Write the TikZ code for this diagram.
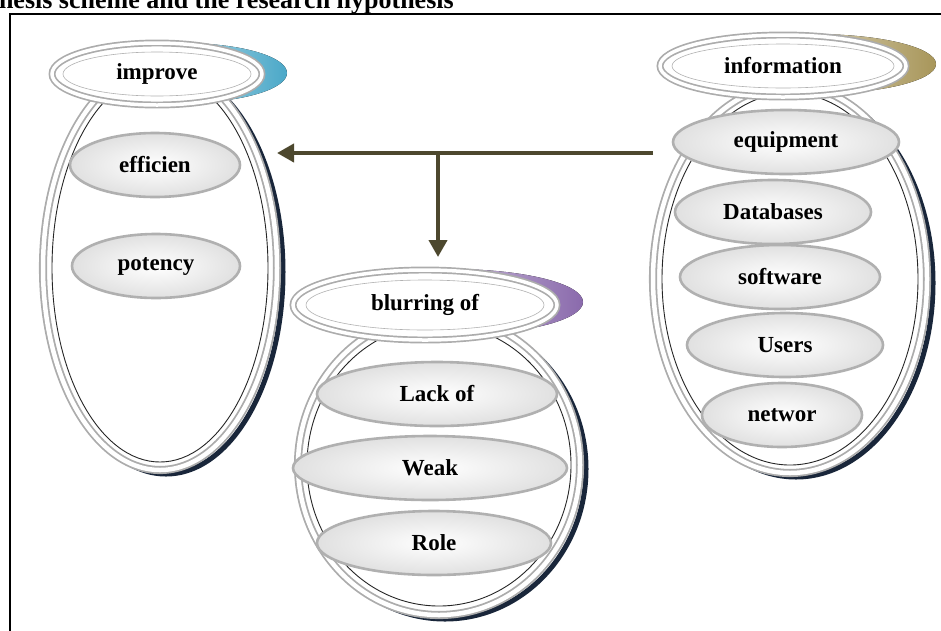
\documentclass[tikz,border=0pt]{standalone}
\usepackage{fontspec}
\setmainfont{Liberation Serif}
\usetikzlibrary{shapes.geometric,arrows.meta}
\definecolor{arrowolive}{RGB}{77,72,46}
\definecolor{ringnavy}{RGB}{25,38,58}
\definecolor{crescteal}{RGB}{75,168,200}
\definecolor{crescpurple}{RGB}{138,106,172}
\definecolor{crescgold}{RGB}{168,150,90}
\begin{document}
\begin{tikzpicture}[x=1pt, y=-1pt,
    every node/.style={inner sep=0pt, outer sep=0pt},
    bigring/.style={ellipse, draw=gray!65, double=white, double distance=4.5pt, line width=1.8pt, fill=white},
    ringshade/.style={draw=ringnavy, line width=5pt},
    ringline/.style={draw=black!85, line width=0.9pt},
    headbox/.style={ellipse, draw=gray!65, double=white, double distance=3.5pt, line width=1.7pt, fill=white,
      font=\fontsize{23}{26}\selectfont\bfseries},
    headline/.style={draw=gray!60, line width=0.6pt},
    item/.style={ellipse, draw=gray!62, line width=2.6pt, inner color=white, outer color=gray!24,
      minimum height=64pt, font=\fontsize{23}{26}\selectfont\bfseries},
    flowarr/.style={draw=arrowolive, line width=4pt, -{Triangle[width=18pt,length=17pt]}}
  ]
  \useasboundingbox (0,0) rectangle (941,630);
  \clip (0,0) rectangle (941,630);

  \node[anchor=base west, font=\fontsize{26}{28}\selectfont\bfseries] (title) at (-1,8)
    {hesis scheme and the research hypothesis};
  \draw[line width=1.2pt] (10,640) -- (10,14) -- (950,14);

  % improve
  \draw[ringshade] (166,272) ellipse [x radius=117, y radius=202];
  \node[bigring, minimum width=234pt, minimum height=404pt] (impring) at (160,268) {};
  \draw[ringline] (impring.center) ellipse [x radius=108, y radius=194];
  \node[item, minimum width=170pt] (efficien) at (155,165) {efficien};
  \node[item, minimum width=168pt] (potency) at (156,266) {potency};
  \fill[left color=white, right color=crescteal] (182,73) ellipse [x radius=105, y radius=30];
  \node[headbox, minimum width=210pt, minimum height=62pt] (improve) at (157,74) {improve};
  \draw[headline] (improve.center) ellipse [x radius=94, y radius=22];

  % blurring of
  \draw[ringshade] (445,469) ellipse [x radius=141, y radius=150];
  \node[bigring, minimum width=282pt, minimum height=300pt] (blurring) at (439,465) {};
  \draw[ringline] (blurring.center) ellipse [x radius=132, y radius=141];
  \node[item, minimum width=240pt] (lack) at (437,394) {Lack of};
  \node[item, minimum width=274pt] (weak) at (430,468) {Weak};
  \node[item, minimum width=234pt] (role) at (434,543) {Role};
  \fill[left color=white, right color=crescpurple] (451,302) ellipse [x radius=132, y radius=33];
  \node[headbox, minimum width=264pt, minimum height=70pt] (blurtop) at (425,305) {blurring of};
  \draw[headline] (blurtop.center) ellipse [x radius=119, y radius=25];

  % information
  \draw[ringshade] (796,283) ellipse [x radius=137, y radius=194];
  \node[bigring, minimum width=274pt, minimum height=388pt] (inforing) at (790,279) {};
  \draw[ringline] (inforing.center) ellipse [x radius=128, y radius=186];
  \foreach \n/\t/\x/\y/\w in {equip/equipment/786/142/226, data/Databases/773/212/196,
      soft/software/780/277/200, users/Users/785/345/196, net/networ/782/415/160}
    \node[item, minimum width=\w pt] (\n) at (\x,\y) {\t};
  \fill[left color=white, right color=crescgold] (813,64) ellipse [x radius=123, y radius=30];
  \node[headbox, minimum width=246pt, minimum height=62pt] (information) at (783,66) {information};
  \draw[headline] (information.center) ellipse [x radius=111, y radius=22];

  \coordinate (split) at (438,153);
  \draw[flowarr] (inforing.west |- split) -- (impring.east |- split);
  \draw[flowarr, shorten >=13pt] (split) -- (split |- blurtop.north);
\end{tikzpicture}
\end{document}
